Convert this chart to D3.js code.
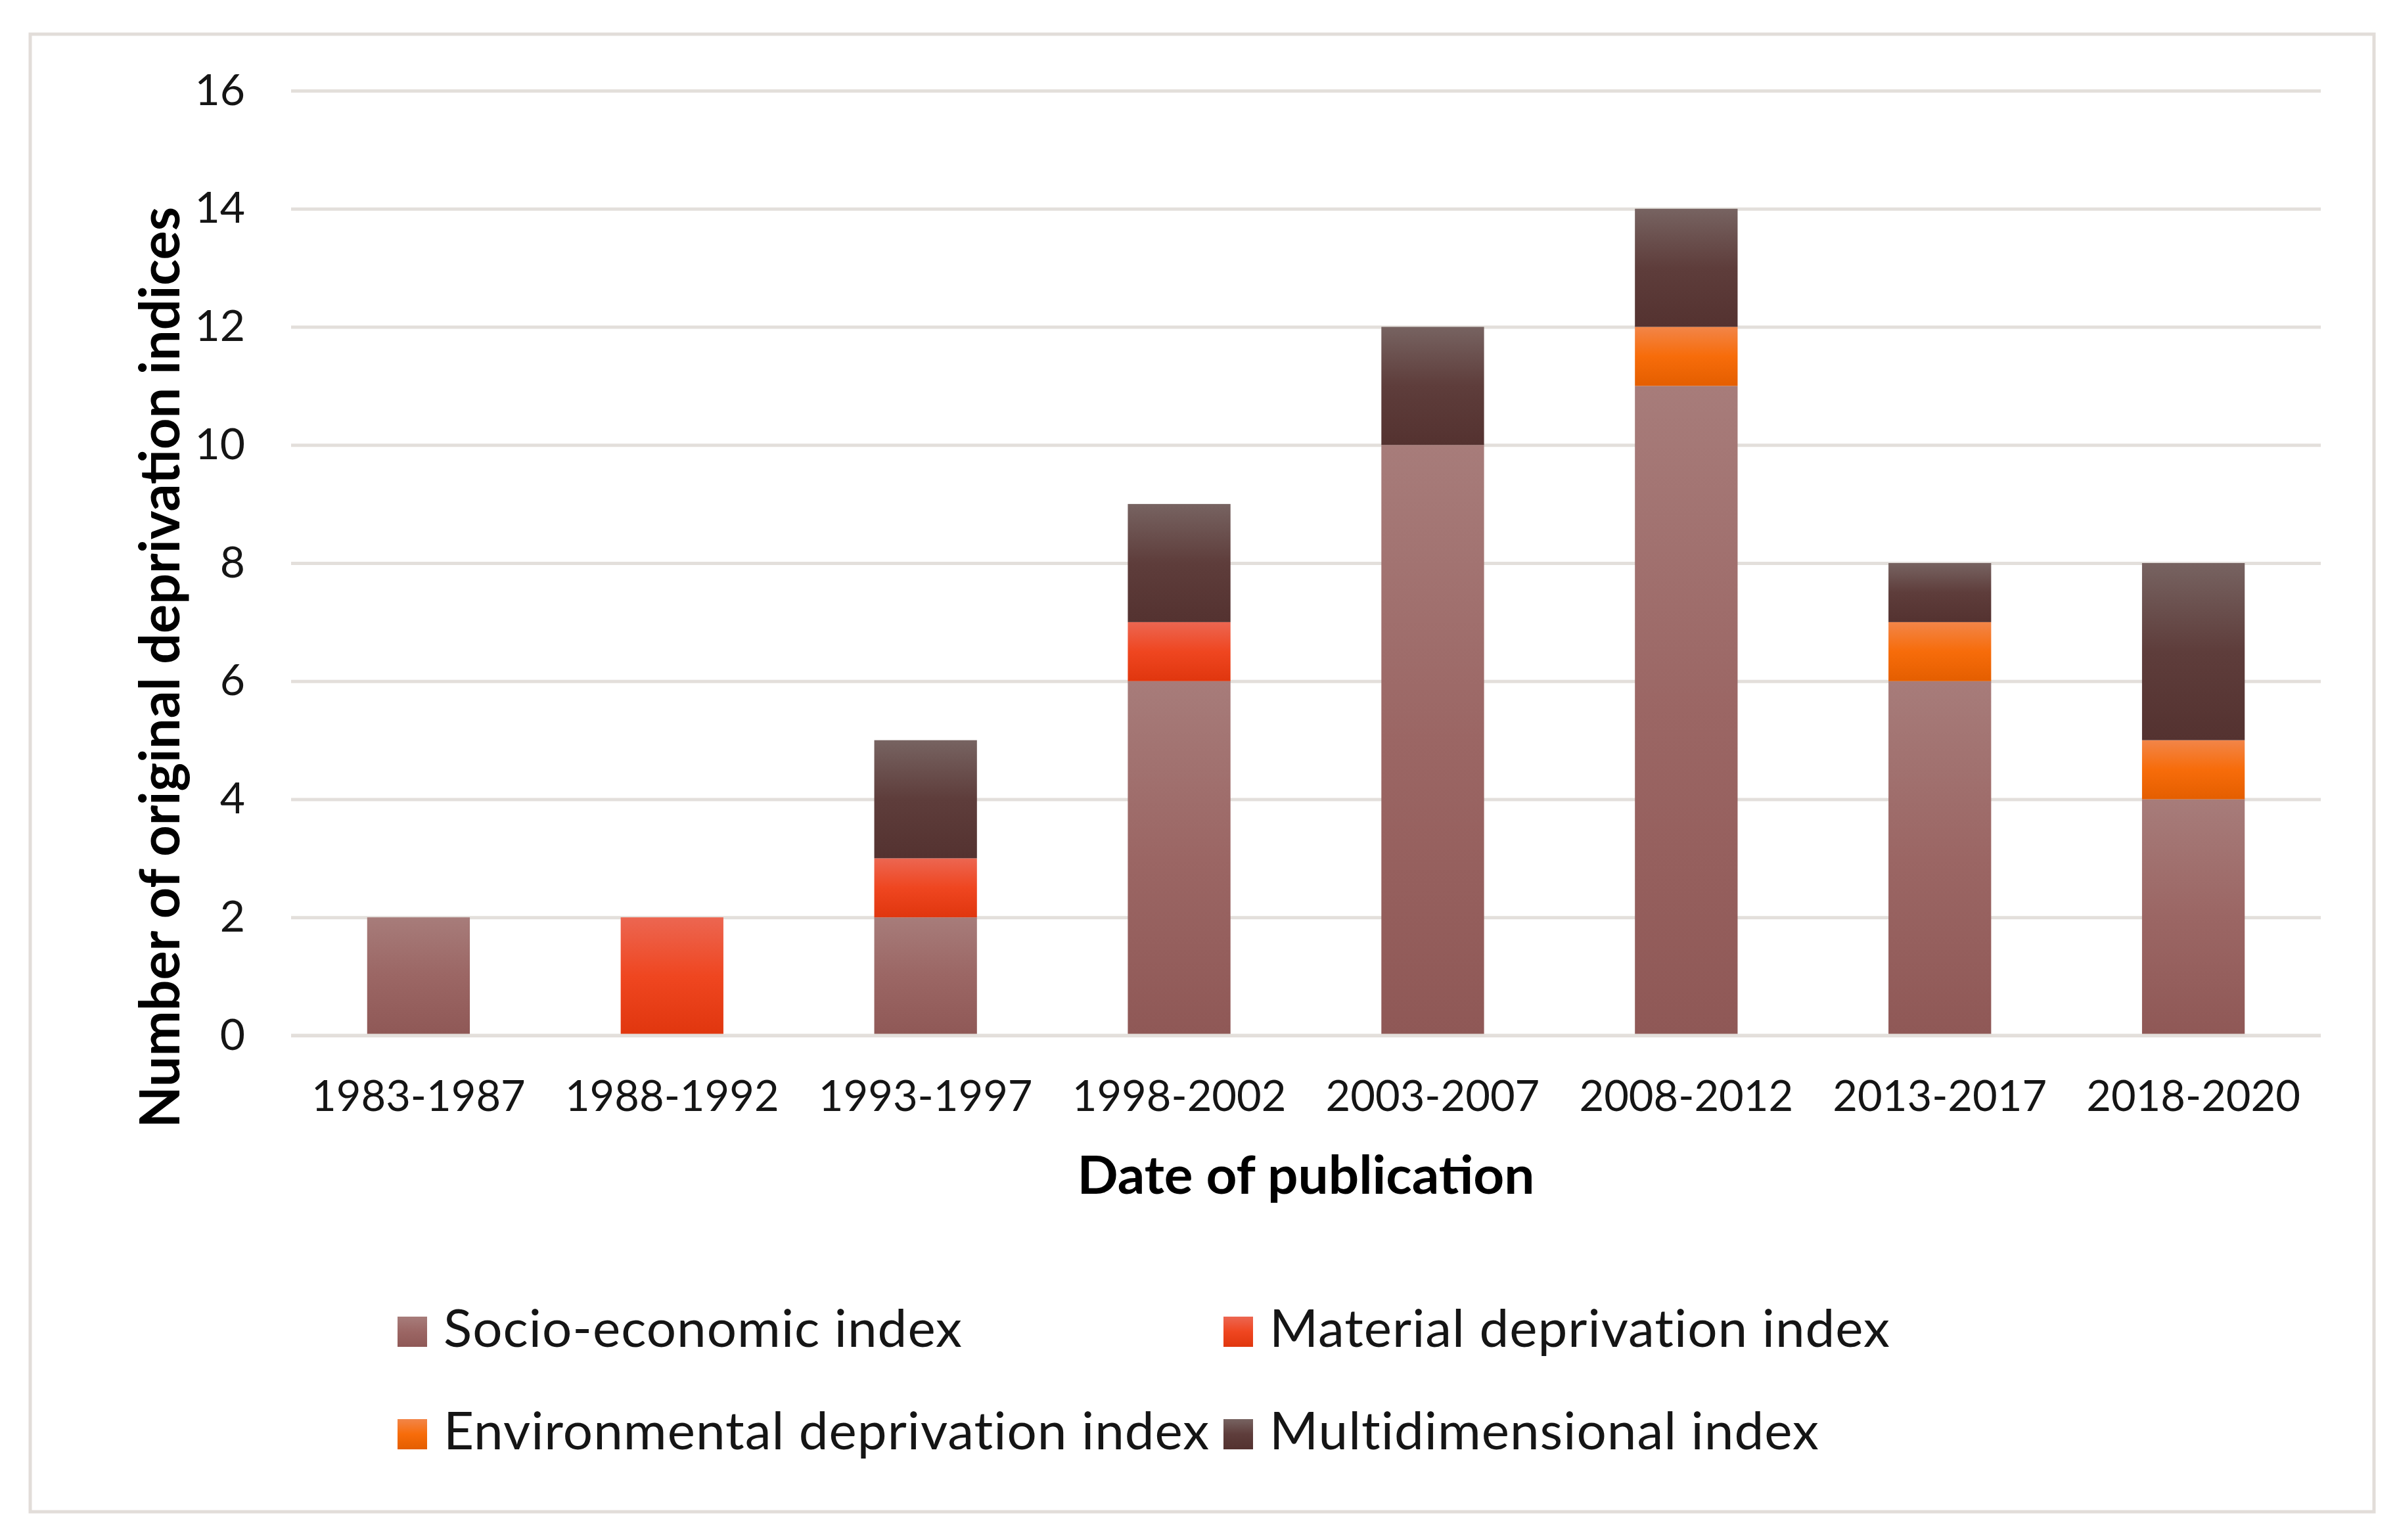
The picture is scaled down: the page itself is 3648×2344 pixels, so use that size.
<!DOCTYPE html>
<html>
<head>
<meta charset="utf-8">
<script src="https://cdn.jsdelivr.net/npm/d3@7"></script>
<style>
  body { margin: 0; background: #fff; }
  svg { display: block; font-family: Lato, "Open Sans", sans-serif; }
</style>
</head>
<body>
<div id="chart"></div>
<script>
// data
var categories = ["1983-1987", "1988-1992", "1993-1997", "1998-2002", "2003-2007", "2008-2012", "2013-2017", "2018-2020"];
var socio = [2, 0, 2, 6, 10, 11, 6, 4];
var material = [0, 2, 1, 1, 0, 0, 0, 0];
var environmental = [0, 0, 0, 0, 0, 1, 1, 1];
var multi = [0, 0, 2, 2, 2, 2, 1, 3];
var yTicks = [0, 2, 4, 6, 8, 10, 12, 14, 16];

var seriesNames = ["Socio-economic index", "Material deprivation index", "Environmental deprivation index", "Multidimensional index"];
var keys = ["socio", "material", "environmental", "multi"];
// gradient stops: top, middle, bottom
var gradStops = {
  socio: ["#a77c7a", "#9b6664", "#8f5856"],
  material: ["#ec6651", "#ef4620", "#e0360e"],
  environmental: ["#f28548", "#f76c0a", "#e45e00"],
  multi: ["#776361", "#5e3d3b", "#543230"]
};

var W = 3648, H = 2344;
var plotL = 443, plotR = 3532, plotT = 138, plotB = 1576;

var table = categories.map(function(c, i) {
  return {cat: c, socio: socio[i], material: material[i], environmental: environmental[i], multi: multi[i]};
});

var svg = d3.select("#chart").append("svg")
    .attr("width", W).attr("height", H);

svg.append("rect").attr("width", W).attr("height", H).attr("fill", "#fff");

// outer frame
svg.append("rect")
    .attr("x", 46).attr("y", 52)
    .attr("width", 3567).attr("height", 2249)
    .attr("fill", "none")
    .attr("stroke", "#e2ddd9")
    .attr("stroke-width", 5);

var defs = svg.append("defs");
keys.forEach(function(k) {
  var g = defs.append("linearGradient")
      .attr("id", "grad-" + k)
      .attr("x1", 0).attr("y1", 0).attr("x2", 0).attr("y2", 1);
  g.append("stop").attr("offset", "0%").attr("stop-color", gradStops[k][0]);
  g.append("stop").attr("offset", "50%").attr("stop-color", gradStops[k][1]);
  g.append("stop").attr("offset", "100%").attr("stop-color", gradStops[k][2]);
});

var x = d3.scaleBand().domain(categories).range([plotL, plotR])
    .paddingInner(0.595).paddingOuter(0.3);
var y = d3.scaleLinear().domain([0, 16]).range([plotB, plotT]);

// y axis with gridlines
var yAxis = svg.append("g")
    .attr("transform", "translate(" + plotL + ",0)")
    .call(d3.axisLeft(y).tickValues(yTicks).tickSize(-(plotR - plotL)).tickPadding(70))
    .attr("font-family", null).attr("font-size", 66);
yAxis.select(".domain").remove();
yAxis.selectAll(".tick line").attr("stroke", "#e3dfdb").attr("stroke-width", 5);
yAxis.selectAll(".tick text").attr("fill", "#151515");

var stacked = d3.stack().keys(keys)(table);

svg.append("g").selectAll("g")
  .data(stacked)
  .enter().append("g")
    .attr("fill", function(d) { return "url(#grad-" + d.key + ")"; })
  .selectAll("rect")
  .data(function(d) { return d.filter(function(p) { return p[1] > p[0]; }); })
  .enter().append("rect")
    .attr("x", function(d) { return x(d.data.cat); })
    .attr("width", x.bandwidth())
    .attr("y", function(d) { return y(d[1]); })
    .attr("height", function(d) { return y(d[0]) - y(d[1]); });

// x axis line on top of bars
var xAxis = svg.append("g")
    .attr("transform", "translate(0," + plotB + ")")
    .call(d3.axisBottom(x).tickSize(0).tickPadding(69))
    .attr("font-family", null).attr("font-size", 65);
xAxis.select(".domain").remove();
xAxis.selectAll(".tick text").attr("fill", "#151515");
svg.append("line")
    .attr("x1", plotL).attr("x2", plotR)
    .attr("y1", y(0)).attr("y2", y(0))
    .attr("stroke", "#e3dfdb").attr("stroke-width", 5);

// axis titles
svg.append("text")
    .attr("x", (plotL + plotR) / 2).attr("y", 1817)
    .attr("text-anchor", "middle")
    .attr("font-size", 80).attr("font-weight", "bold").attr("fill", "#000")
    .attr("textLength", 696).attr("lengthAdjust", "spacingAndGlyphs")
    .text("Date of publication");

svg.append("text")
    .attr("transform", "translate(273,1016) rotate(-90)")
    .attr("text-anchor", "middle")
    .attr("font-size", 84).attr("font-weight", "bold").attr("fill", "#000")
    .attr("textLength", 1402).attr("lengthAdjust", "spacingAndGlyphs")
    .text("Number of original deprivation indices");

// legend
var legendPos = [[605, 2004], [1862, 2004], [605, 2160], [1862, 2160]];
var legend = svg.append("g").selectAll("g")
  .data(keys)
  .enter().append("g")
    .attr("transform", function(d, i) { return "translate(" + legendPos[i][0] + "," + legendPos[i][1] + ")"; });
legend.append("rect")
    .attr("width", 45).attr("height", 46)
    .attr("fill", function(d) { return "url(#grad-" + d + ")"; });
legend.append("text")
    .attr("x", 70).attr("y", 46)
    .attr("font-size", 80).attr("fill", "#151515")
    .attr("letter-spacing", 1)
    .text(function(d, i) { return seriesNames[i]; });
</script>
</body>
</html>
